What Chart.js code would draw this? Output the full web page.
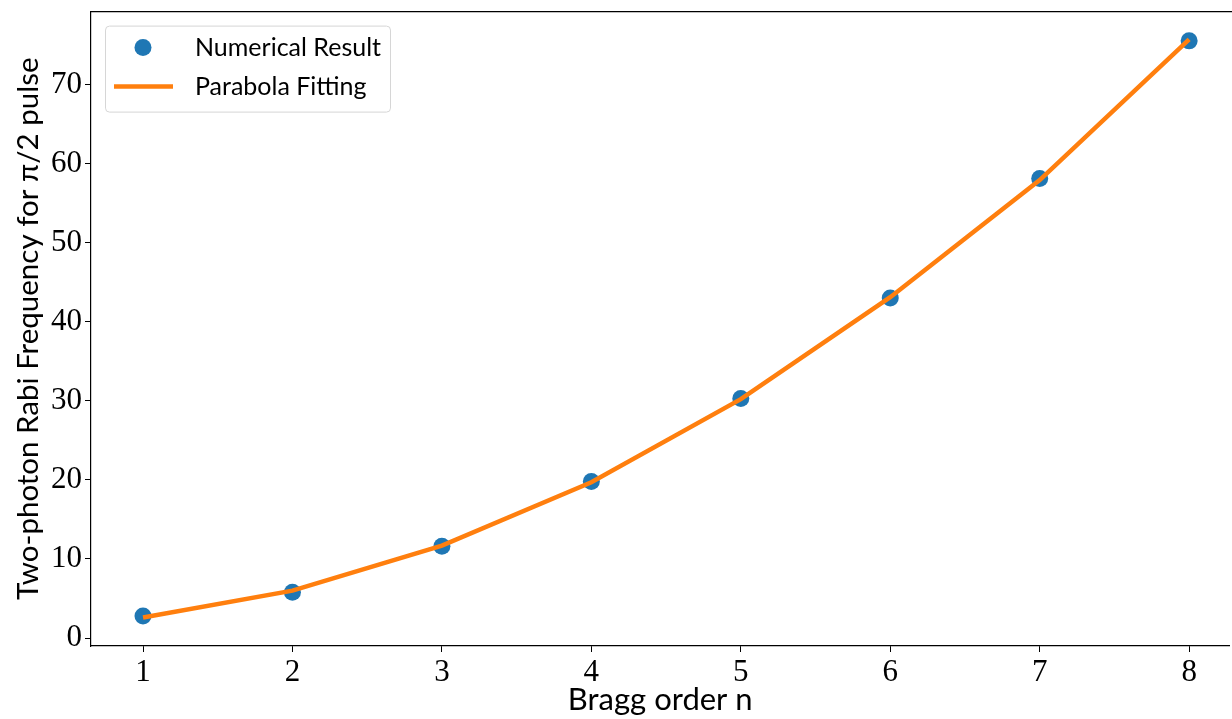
<!DOCTYPE html>
<html>
<head>
<meta charset="utf-8">
<script src="https://cdn.jsdelivr.net/npm/chart.js@4"></script>
<style>
  html, body { margin: 0; padding: 0; background: #fff; overflow: hidden; }
  #wrap { width: 1232px; height: 719px; overflow: hidden; }
  #chart { display: block; margin-top: -10px; }
</style>
</head>
<body>
<div id="wrap"><canvas id="chart" width="1238" height="729"></canvas></div>
<script>
const braggOrders = [1, 2, 3, 4, 5, 6, 7, 8]
const numericalResult = [2.8, 5.8, 11.6, 19.8, 30.3, 43.0, 58.1, 75.5]
const parabolaFit = [2.6, 6.0, 11.7, 19.7, 30.2, 43.1, 57.9, 75.7]
const xTicks = [1, 2, 3, 4, 5, 6, 7, 8]
const yTicks = [0, 10, 20, 30, 40, 50, 60, 70]

const blue = '#1f77b4'
const orange = '#ff7f0e'
const sans = 'Lato, "Open Sans", sans-serif'
const serif = '"Liberation Serif", "DejaVu Serif", serif'

const toPoints = (ys) => braggOrders.map((x, i) => ({ x, y: ys[i] }))

// top spine + legend box drawn inside the plot, like matplotlib
const frameAndLegend = {
  id: 'frameAndLegend',
  afterDraw(chart) {
    const { ctx, chartArea } = chart
    ctx.save()
    ctx.strokeStyle = '#000'
    ctx.lineWidth = 1.2
    ctx.beginPath()
    ctx.moveTo(chartArea.left, chartArea.top)
    ctx.lineTo(chartArea.right + 10, chartArea.top)
    ctx.stroke()

    const bx = chartArea.left + 14
    const by = chartArea.top + 14
    const bw = 285
    const bh = 86
    ctx.fillStyle = 'rgba(255,255,255,0.8)'
    ctx.strokeStyle = '#d6d6d6'
    ctx.lineWidth = 1
    ctx.beginPath()
    ctx.roundRect(bx + 0.5, by + 0.5, bw, bh, 4)
    ctx.fill()
    ctx.stroke()

    ctx.fillStyle = blue
    ctx.beginPath()
    ctx.arc(bx + 38, by + 22, 8.5, 0, Math.PI * 2)
    ctx.fill()

    ctx.strokeStyle = orange
    ctx.lineWidth = 4.5
    ctx.beginPath()
    ctx.moveTo(bx + 9, by + 61)
    ctx.lineTo(bx + 68, by + 61)
    ctx.stroke()

    ctx.fillStyle = '#000'
    ctx.font = '25px ' + sans
    ctx.textBaseline = 'middle'
    ctx.fillText('Numerical Result', bx + 90, by + 22)
    ctx.fillText('Parabola Fitting', bx + 90, by + 61)
    ctx.restore()
  }
}

new Chart(document.getElementById('chart'), {
  type: 'scatter',
  data: {
    datasets: [
      {
        label: 'Numerical Result',
        data: toPoints(numericalResult),
        backgroundColor: blue,
        borderColor: blue,
        pointRadius: 8.5,
        pointBorderWidth: 0,
        order: 2
      },
      {
        label: 'Parabola Fitting',
        data: toPoints(parabolaFit),
        showLine: true,
        borderColor: orange,
        backgroundColor: orange,
        borderWidth: 4.5,
        pointRadius: 0,
        tension: 0,
        order: 1
      }
    ]
  },
  options: {
    responsive: false,
    animation: false,
    layout: { padding: 0 },
    plugins: {
      legend: { display: false },
      tooltip: { enabled: false }
    },
    scales: {
      x: {
        type: 'linear',
        min: 0.652,
        max: 8.27,
        afterBuildTicks: (s) => { s.ticks = xTicks.map((v) => ({ value: v })) },
        afterFit: (s) => { s.height = 73 },
        grid: {
          drawOnChartArea: false,
          tickLength: 6,
          tickColor: '#000',
          tickWidth: 1
        },
        border: { color: '#000', width: 1.2 },
        ticks: {
          color: '#000',
          font: { family: serif, size: 31 },
          padding: 2
        },
        title: {
          display: true,
          text: 'Bragg order n',
          color: '#000',
          font: { family: sans, size: 31 },
          padding: { top: -4, bottom: 0 }
        }
      },
      y: {
        type: 'linear',
        min: -1.0,
        max: 79.2,
        afterBuildTicks: (s) => { s.ticks = yTicks.map((v) => ({ value: v })) },
        afterFit: (s) => { s.width = 91 },
        grid: {
          drawOnChartArea: false,
          tickLength: 6,
          tickColor: '#000',
          tickWidth: 1
        },
        border: { color: '#000', width: 1.2 },
        ticks: {
          color: '#000',
          font: { family: serif, size: 31 },
          padding: 3
        },
        title: {
          display: true,
          text: 'Two-photon Rabi Frequency for π/2 pulse',
          color: '#000',
          font: { family: sans, size: 29.5 },
          padding: { top: 11, bottom: 0 }
        }
      }
    }
  },
  plugins: [frameAndLegend]
})
</script>
</body>
</html>
